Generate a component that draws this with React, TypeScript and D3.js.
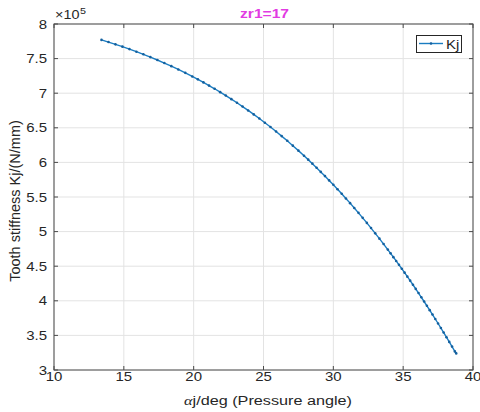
import React from "react";
import * as d3 from "d3";

const angles: number[] = [
  13.4, 13.9, 14.4, 14.9, 15.4, 15.9, 16.4, 16.9, 17.4, 17.9, 18.4, 18.9, 19.4, 19.9,
  20.3, 20.7, 21.1, 21.5, 21.9, 22.3, 22.7, 23.1, 23.5, 23.9, 24.3, 24.7, 25.1, 25.5,
  25.9, 26.3, 26.7, 27.1, 27.5, 27.9,
  28.2, 28.5, 28.8, 29.1, 29.4, 29.7, 30.0, 30.3, 30.6, 30.9, 31.2, 31.5, 31.8, 32.1,
  32.4, 32.7, 33.0, 33.3, 33.6, 33.9,
  34.1, 34.3, 34.5, 34.7, 34.9, 35.1, 35.3, 35.5, 35.7, 35.9, 36.1, 36.3, 36.5, 36.7,
  36.9, 37.1, 37.3, 37.5, 37.7, 37.9, 38.1, 38.3, 38.5, 38.7, 38.8,
];

const stiffness: number[] = [
  7.770, 7.739, 7.706, 7.673, 7.637, 7.600, 7.562, 7.522, 7.480, 7.436, 7.391, 7.343, 7.294, 7.242,
  7.200, 7.156, 7.110, 7.064, 7.015, 6.966, 6.914, 6.862, 6.807, 6.751, 6.694, 6.634, 6.573, 6.511,
  6.446, 6.380, 6.312, 6.242, 6.170, 6.096,
  6.040, 5.982, 5.923, 5.863, 5.802, 5.740, 5.677, 5.612, 5.546, 5.479, 5.411, 5.342, 5.271, 5.199,
  5.126, 5.051, 4.975, 4.898, 4.820, 4.740,
  4.686, 4.631, 4.576, 4.520, 4.464, 4.407, 4.349, 4.291, 4.232, 4.172, 4.112, 4.051, 3.990, 3.928,
  3.865, 3.801, 3.737, 3.672, 3.607, 3.541, 3.474, 3.406, 3.338, 3.269, 3.240,
];

const xTicks: number[] = [10, 15, 20, 25, 30, 35, 40];
const yTicks: number[] = [3, 3.5, 4, 4.5, 5, 5.5, 6, 6.5, 7, 7.5, 8];

const titleText = "zr1=17";
const xLabelText = "j/deg (Pressure angle)";
const yLabelText = "Tooth stiffness Kj/(N/mm)";
const legendLabel = "Kj";

const W = 480;
const H = 412;
const L = 54;
const R = 473;
const T = 24;
const B = 370;

const FONT = "'Liberation Sans', Arial, Helvetica, sans-serif";
const TXT = "#262626";
const LINE = "#1a7cc1";
const MARK = "#14609e";
const SX = 1.2;

export default function App() {
  const x = d3.scaleLinear().domain([10, 40]).range([L, R]);
  const y = d3.scaleLinear().domain([3, 8]).range([B, T]);
  const pts = angles.map((a, i) => [a, stiffness[i]] as [number, number]);
  const line = d3
    .line<[number, number]>()
    .x((d) => x(d[0]))
    .y((d) => y(d[1]));

  const tickLen = 4;

  return (
    <svg
      width={W}
      height={H}
      style={{ position: "absolute", left: 0, top: 0, background: "#fff" }}
    >
      <rect x={0} y={0} width={W} height={H} fill="#fff" />
      {/* grid */}
      {xTicks.map((t) => (
        <line key={"gx" + t} x1={x(t)} x2={x(t)} y1={T} y2={B} stroke="#e3e3e3" strokeWidth={1} />
      ))}
      {yTicks.map((t) => (
        <line key={"gy" + t} x1={L} x2={R} y1={y(t)} y2={y(t)} stroke="#e3e3e3" strokeWidth={1} />
      ))}

      {/* data */}
      <path d={line(pts) || ""} fill="none" stroke={LINE} strokeWidth={1.4} />
      {pts.map((p, i) => (
        <circle key={"m" + i} cx={x(p[0])} cy={y(p[1])} r={1.3} fill={MARK} />
      ))}

      {/* box */}
      <rect x={L} y={T} width={R - L} height={B - T} fill="none" stroke="#4a4a4a" strokeWidth={1} />
      {/* ticks */}
      {xTicks.map((t) => (
        <g key={"tx" + t}>
          <line x1={x(t)} x2={x(t)} y1={B} y2={B - tickLen} stroke="#4a4a4a" />
          <line x1={x(t)} x2={x(t)} y1={T} y2={T + tickLen} stroke="#4a4a4a" />
        </g>
      ))}
      {yTicks.map((t) => (
        <g key={"ty" + t}>
          <line x1={L} x2={L + tickLen} y1={y(t)} y2={y(t)} stroke="#4a4a4a" />
          <line x1={R} x2={R - tickLen} y1={y(t)} y2={y(t)} stroke="#4a4a4a" />
        </g>
      ))}

      {/* tick labels */}
      {xTicks.map((t) => (
        <text
          key={"lx" + t}
          transform={`translate(${x(t)},381) scale(${SX},1)`}
          textAnchor="middle"
          fontFamily={FONT}
          fontSize={12.5}
          fill={TXT}
        >
          {String(t)}
        </text>
      ))}
      {yTicks.map((t) => (
        <text
          key={"ly" + t}
          transform={`translate(47,${y(t) + 4.5}) scale(${SX},1)`}
          textAnchor="end"
          fontFamily={FONT}
          fontSize={12.5}
          fill={TXT}
        >
          {String(t)}
        </text>
      ))}

      {/* exponent */}
      <text transform={`translate(55,19) scale(${SX},1)`} fontFamily={FONT} fontSize={12} fill={TXT}>
        ×10
      </text>
      <text transform={`translate(80,14) scale(${SX},1)`} fontFamily={FONT} fontSize={9} fill={TXT}>
        5
      </text>

      {/* title */}
      <text
        transform={`translate(264.5,18) scale(${SX},1)`}
        textAnchor="middle"
        fontFamily={FONT}
        fontSize={13}
        fontWeight="bold"
        fill="#e23be2"
      >
        {titleText}
      </text>

      {/* x label */}
      <text
        transform={`translate(268,405) scale(${SX},1)`}
        textAnchor="middle"
        fontFamily={FONT}
        fontSize={13.5}
        fill={TXT}
      >
        <tspan fontFamily="'Liberation Serif', 'DejaVu Serif', serif" fontStyle="italic">
          α
        </tspan>
        {xLabelText}
      </text>

      {/* y label */}
      <text
        transform={`translate(20,201) rotate(-90)`}
        textAnchor="middle"
        fontFamily={FONT}
        fontSize={14.5}
        fill={TXT}
      >
        {yLabelText}
      </text>

      {/* legend */}
      <rect x={416.5} y={35.5} width={45} height={17} fill="#fff" stroke="#262626" strokeWidth={1} />
      <line x1={419} x2={443} y1={43.5} y2={43.5} stroke={LINE} strokeWidth={1.4} />
      <circle cx={431} cy={43.5} r={1.3} fill={MARK} />
      <text
        transform={`translate(446,48.5) scale(${SX},1)`}
        fontFamily={FONT}
        fontSize={12.5}
        fill={TXT}
      >
        {legendLabel}
      </text>
    </svg>
  );
}
